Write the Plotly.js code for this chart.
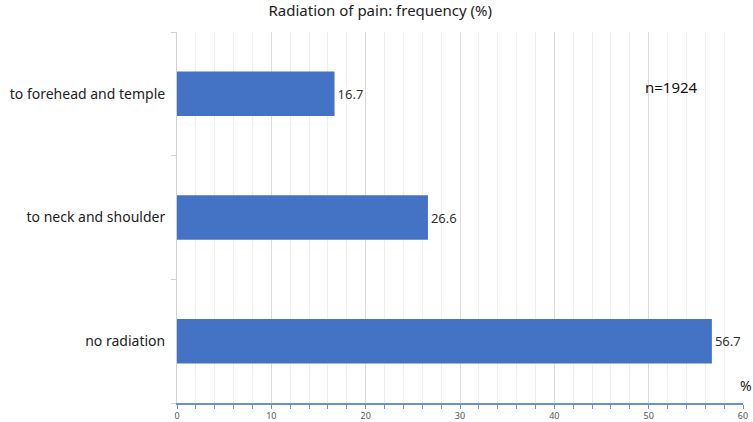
<!DOCTYPE html>
<html>
<head>
<meta charset="utf-8">
<script src="https://cdn.plot.ly/plotly-3.0.1.min.js"></script>
<style>
  html, body { margin: 0; padding: 0; background: #fff; }
  #chart { width: 753px; height: 422px; }
</style>
</head>
<body>
<div id="chart"></div>
<script>
// categories from bottom to top, as drawn
const categories = ['no radiation', 'to neck and shoulder', 'to forehead and temple'];
const frequency = [56.7, 26.6, 16.7];
const sampleSize = 'n=1924';

const font = 'Noto Sans, Open Sans, sans-serif';

Plotly.newPlot('chart', [{
    type: 'bar',
    orientation: 'h',
    x: frequency,
    y: categories,
    marker: { color: '#4472C4' },
    text: frequency.map(v => v.toFixed(1)),
    textposition: 'outside',
    textfont: { family: font, size: 13, color: '#333' },
    cliponaxis: false,
    hoverinfo: 'none'
}], {
    width: 753,
    height: 422,
    margin: { l: 177, r: 10, t: 32, b: 19 },
    paper_bgcolor: '#fff',
    plot_bgcolor: '#fff',
    bargap: 0.64,
    showlegend: false,
    title: {
        text: 'Radiation of pain: frequency (%)',
        x: 0.505, xref: 'container', xanchor: 'center',
        y: 0.975, yanchor: 'middle',
        font: { family: font, size: 15, color: '#222' }
    },
    xaxis: {
        range: [0, 60],
        dtick: 10,
        showgrid: true,
        gridcolor: '#dcdcdc',
        zeroline: false,
        showline: true,
        linecolor: '#6a8fd2',
        linewidth: 1.5,
        ticks: 'outside',
        ticklen: 4,
        tickcolor: '#6a8fd2',
        tickfont: { family: font, size: 9, color: '#555' },
        minor: { dtick: 2, showgrid: true, gridcolor: '#eeeeee', ticks: 'outside', ticklen: 4, tickcolor: '#6a8fd2' },
        fixedrange: true
    },
    yaxis: {
        type: 'category',
        tickson: 'boundaries',
        ticks: 'outside',
        ticklen: 5,
        tickcolor: '#d0d0d0',
        showline: true,
        linecolor: '#d0d0d0',
        showgrid: false,
        zeroline: false,
        ticklabelstandoff: 8,
        tickfont: { family: font, size: 14, color: '#222' },
        fixedrange: true
    },
    annotations: [{
        text: sampleSize,
        xref: 'paper', yref: 'paper', x: 0.873, y: 0.852,
        xanchor: 'center', yanchor: 'middle',
        showarrow: false,
        font: { family: font, size: 15, color: '#111' }
    }, {
        text: '%',
        xref: 'paper', yref: 'paper', x: 1.005, y: 0.048,
        xanchor: 'center', yanchor: 'middle',
        showarrow: false,
        font: { family: font, size: 14, color: '#222' }
    }]
}, { displayModeBar: false, staticPlot: true });
</script>
</body>
</html>
